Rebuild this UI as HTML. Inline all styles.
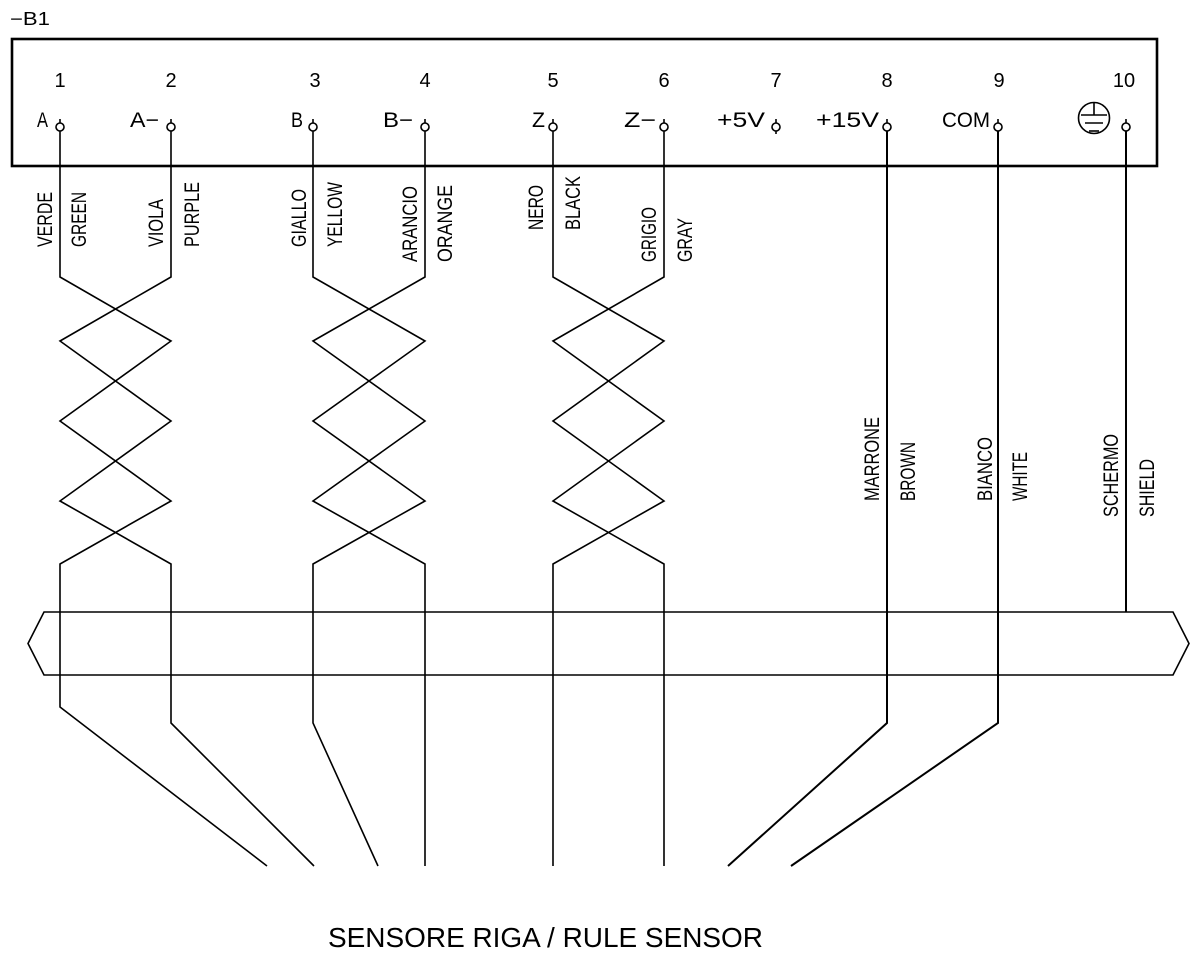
<!DOCTYPE html>
<html>
<head>
<meta charset="utf-8">
<style>
  html,body{margin:0;padding:0;background:#fff;}
  svg{display:block;}
  text{font-family:"Liberation Sans",Arial,sans-serif;fill:#000;}
</style>
</head>
<body>
<svg width="1195" height="958" viewBox="0 0 1195 958" xmlns="http://www.w3.org/2000/svg">
  <!-- title -->
  <text x="10" y="25" font-size="18" textLength="40" lengthAdjust="spacingAndGlyphs">−B1</text>

  <!-- box -->
  <rect x="12" y="39" width="1145" height="127" fill="none" stroke="#000" stroke-width="2.6"/>

  <!-- pin numbers -->
  <g font-size="20" text-anchor="middle">
    <text x="60" y="87">1</text>
    <text x="171" y="87">2</text>
    <text x="315" y="87">3</text>
    <text x="425" y="87">4</text>
    <text x="553" y="87">5</text>
    <text x="664" y="87">6</text>
    <text x="776" y="87">7</text>
    <text x="887" y="87">8</text>
    <text x="999" y="87">9</text>
    <text x="1124" y="87">10</text>
  </g>

  <!-- pin labels -->
  <g font-size="21">
    <text x="37" y="127" textLength="11" lengthAdjust="spacingAndGlyphs">A</text>
    <text x="130" y="127" textLength="29" lengthAdjust="spacingAndGlyphs">A−</text>
    <text x="291" y="127" textLength="12" lengthAdjust="spacingAndGlyphs">B</text>
    <text x="383" y="127" textLength="30" lengthAdjust="spacingAndGlyphs">B−</text>
    <text x="532" y="127" textLength="13" lengthAdjust="spacingAndGlyphs">Z</text>
    <text x="624" y="127" textLength="32" lengthAdjust="spacingAndGlyphs">Z−</text>
    <text x="717" y="127" textLength="48" lengthAdjust="spacingAndGlyphs">+5V</text>
    <text x="816" y="127" textLength="63" lengthAdjust="spacingAndGlyphs">+15V</text>
    <text x="942" y="127" textLength="48" lengthAdjust="spacingAndGlyphs">COM</text>
  </g>

  <!-- terminals -->
  <g fill="#fff" stroke="#000" stroke-width="1.6">
    <line x1="60" y1="119" x2="60" y2="123"/><circle cx="60" cy="127" r="4"/>
    <line x1="171" y1="119" x2="171" y2="123"/><circle cx="171" cy="127" r="4"/>
    <line x1="313" y1="119" x2="313" y2="123"/><circle cx="313" cy="127" r="4"/>
    <line x1="425" y1="119" x2="425" y2="123"/><circle cx="425" cy="127" r="4"/>
    <line x1="553" y1="119" x2="553" y2="123"/><circle cx="553" cy="127" r="4"/>
    <line x1="664" y1="119" x2="664" y2="123"/><circle cx="664" cy="127" r="4"/>
    <line x1="776" y1="119" x2="776" y2="123"/><line x1="776" y1="131" x2="776" y2="134"/><circle cx="776" cy="127" r="4"/>
    <line x1="887" y1="119" x2="887" y2="123"/><circle cx="887" cy="127" r="4"/>
    <line x1="998" y1="119" x2="998" y2="123"/><circle cx="998" cy="127" r="4"/>
    <line x1="1126" y1="119" x2="1126" y2="123"/><circle cx="1126" cy="127" r="4"/>
  </g>

  <!-- ground symbol -->
  <g fill="none" stroke="#000" stroke-width="1.6">
    <circle cx="1094" cy="118" r="15.5"/>
    <line x1="1094" y1="103" x2="1094" y2="115"/>
    <line x1="1081" y1="115" x2="1107" y2="115"/>
    <line x1="1085" y1="123" x2="1103" y2="123"/>
    <line x1="1089" y1="131" x2="1099" y2="131"/>
  </g>

  <!-- wires -->
  <g fill="none" stroke="#000" stroke-width="1.6" stroke-linejoin="miter">
    <!-- pair 1 -->
    <polyline points="60,131 60,277 171,341 60,421 171,501 60,564 60,707 267,866"/>
    <polyline points="171,131 171,277 60,341 171,421 60,501 171,564 171,723 314,866"/>
    <!-- pair 2 -->
    <polyline points="313,131 313,277 425,341 313,421 425,501 313,564 313,723 378,866"/>
    <polyline points="425,131 425,277 313,341 425,421 313,501 425,564 425,866"/>
    <!-- pair 3 -->
    <polyline points="553,131 553,277 664,341 553,421 664,501 553,564 553,866"/>
    <polyline points="664,131 664,277 553,341 664,421 553,501 664,564 664,866"/>
    <!-- singles -->
    <polyline points="887,131 887,723 728,866" stroke-width="2"/>
    <polyline points="998,131 998,723 791,866" stroke-width="2"/>
    <polyline points="1126,131 1126,612" stroke-width="2"/>
    <!-- cable -->
    <polygon points="44,612 1173,612 1189,643.5 1173,675 44,675 28,643.5"/>
  </g>

  <!-- vertical wire labels -->
  <g font-size="21">
    <text transform="translate(52,247) rotate(-90)" textLength="55" lengthAdjust="spacingAndGlyphs">VERDE</text>
    <text transform="translate(86,247) rotate(-90)" textLength="55" lengthAdjust="spacingAndGlyphs">GREEN</text>
    <text transform="translate(163,247) rotate(-90)" textLength="48" lengthAdjust="spacingAndGlyphs">VIOLA</text>
    <text transform="translate(199,247) rotate(-90)" textLength="65" lengthAdjust="spacingAndGlyphs">PURPLE</text>
    <text transform="translate(306,247) rotate(-90)" textLength="58" lengthAdjust="spacingAndGlyphs">GIALLO</text>
    <text transform="translate(342,247) rotate(-90)" textLength="65" lengthAdjust="spacingAndGlyphs">YELLOW</text>
    <text transform="translate(417,262) rotate(-90)" textLength="76" lengthAdjust="spacingAndGlyphs">ARANCIO</text>
    <text transform="translate(452,262) rotate(-90)" textLength="77" lengthAdjust="spacingAndGlyphs">ORANGE</text>
    <text transform="translate(543,230) rotate(-90)" textLength="45" lengthAdjust="spacingAndGlyphs">NERO</text>
    <text transform="translate(580,230) rotate(-90)" textLength="54" lengthAdjust="spacingAndGlyphs">BLACK</text>
    <text transform="translate(656,262) rotate(-90)" textLength="55" lengthAdjust="spacingAndGlyphs">GRIGIO</text>
    <text transform="translate(692,262) rotate(-90)" textLength="44" lengthAdjust="spacingAndGlyphs">GRAY</text>
    <text transform="translate(879,501) rotate(-90)" textLength="84" lengthAdjust="spacingAndGlyphs">MARRONE</text>
    <text transform="translate(915,501) rotate(-90)" textLength="59" lengthAdjust="spacingAndGlyphs">BROWN</text>
    <text transform="translate(992,501) rotate(-90)" textLength="64" lengthAdjust="spacingAndGlyphs">BIANCO</text>
    <text transform="translate(1027,501) rotate(-90)" textLength="49" lengthAdjust="spacingAndGlyphs">WHITE</text>
    <text transform="translate(1118,517) rotate(-90)" textLength="83" lengthAdjust="spacingAndGlyphs">SCHERMO</text>
    <text transform="translate(1154,517) rotate(-90)" textLength="58" lengthAdjust="spacingAndGlyphs">SHIELD</text>
  </g>

  <!-- bottom caption -->
  <text x="328" y="947" font-size="28" textLength="435" lengthAdjust="spacingAndGlyphs">SENSORE RIGA / RULE SENSOR</text>
</svg>
</body>
</html>
